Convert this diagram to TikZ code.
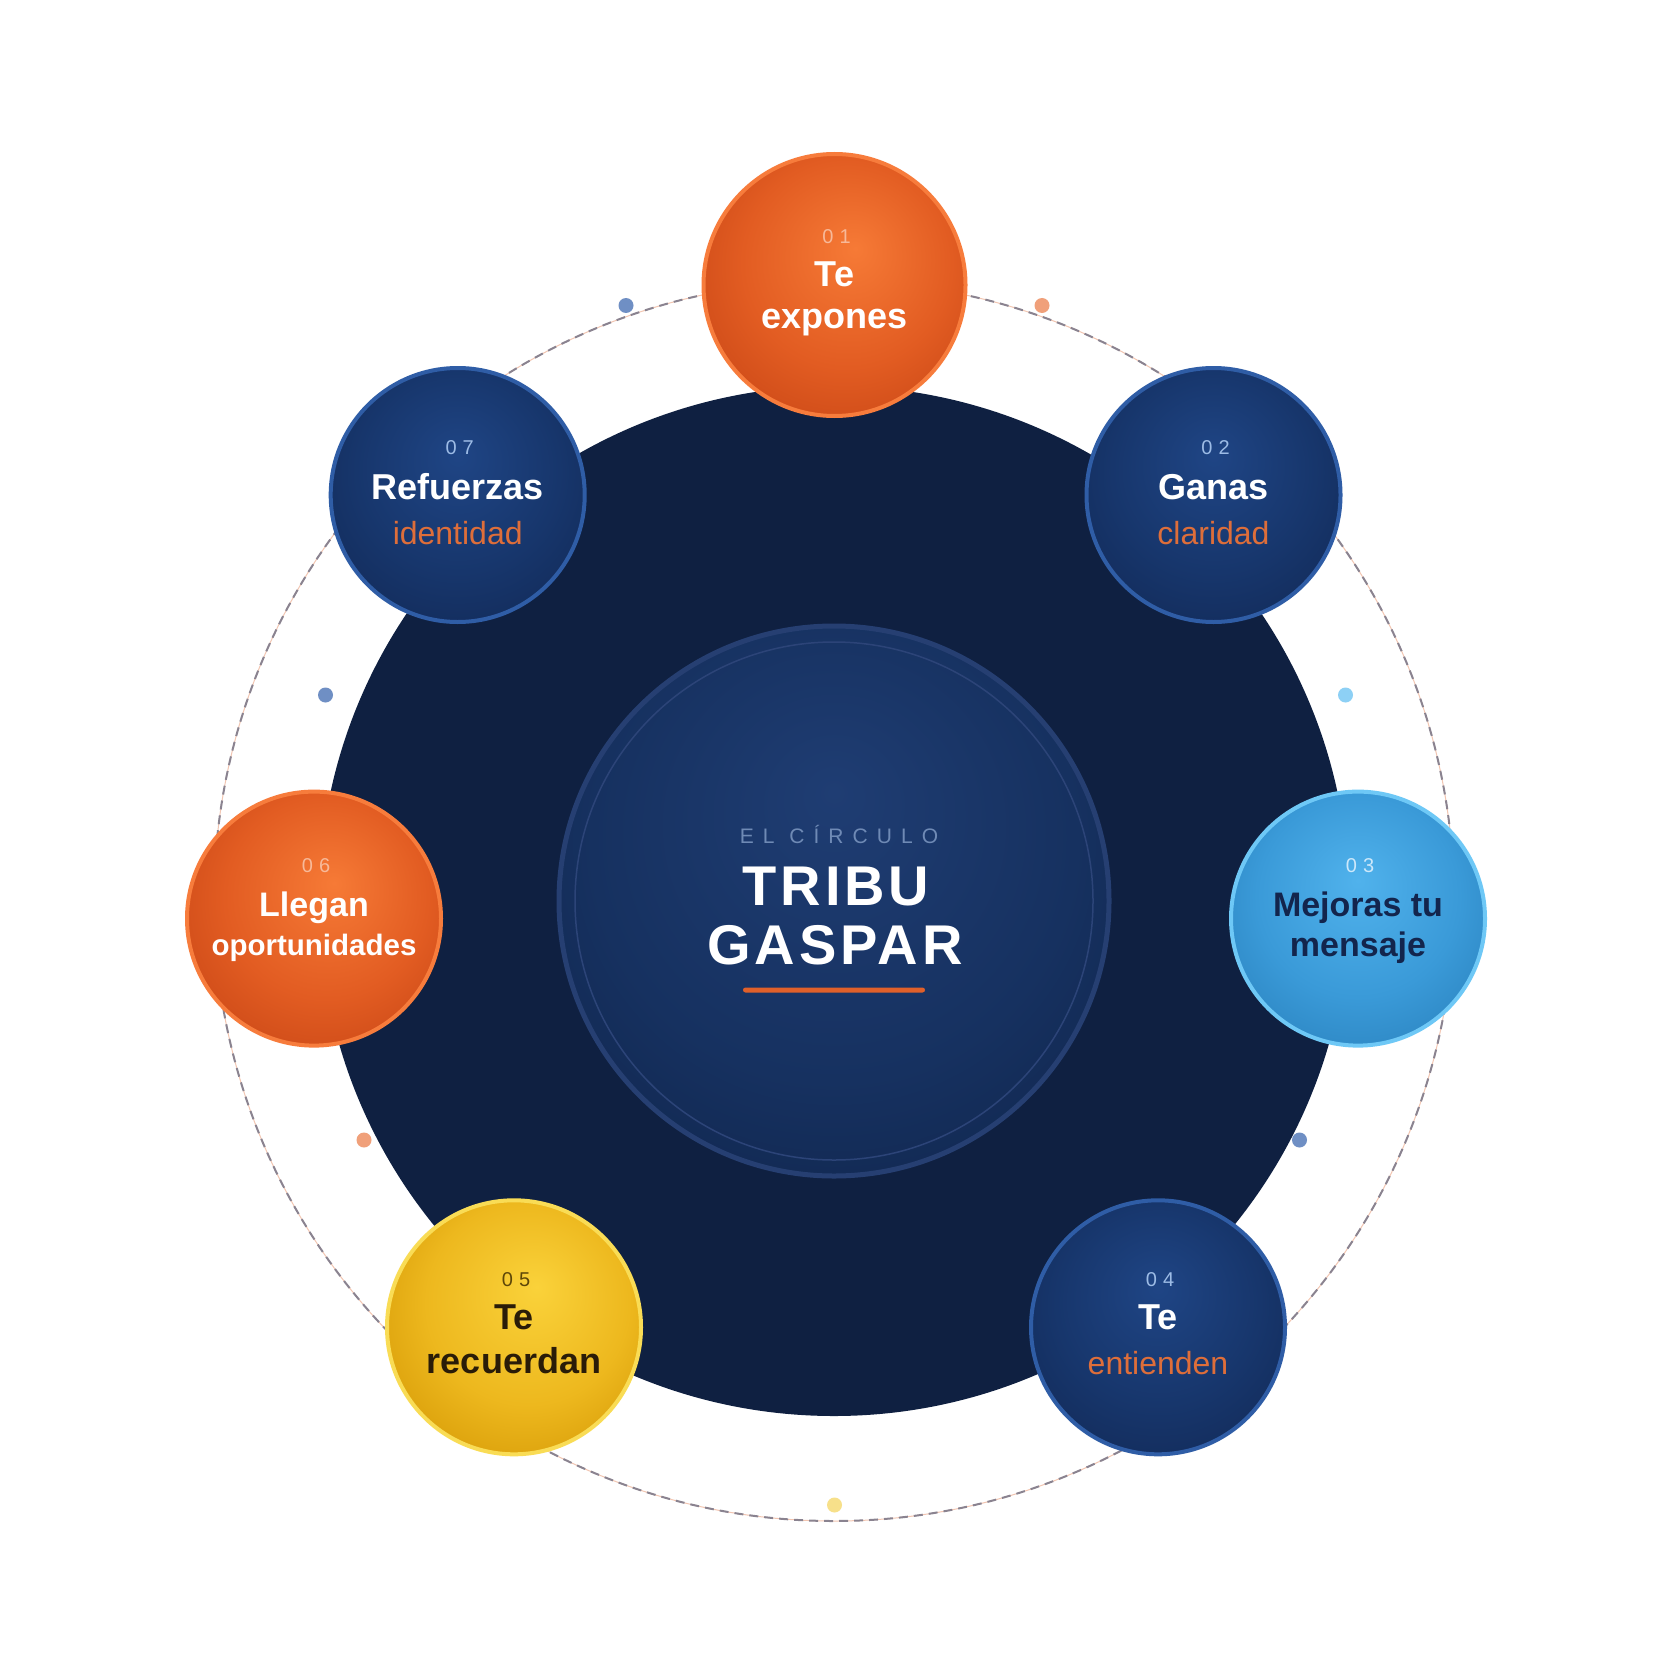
\documentclass[tikz,border=0pt]{standalone}
\usepackage{fontspec}
\setmainfont{Liberation Sans}
\newfontfamily\numfont[LetterSpace=30]{Liberation Sans}
\newfontfamily\kickerfont[LetterSpace=43]{Liberation Sans}
\newfontfamily\titlefont[LetterSpace=7]{Liberation Sans}
\definecolor{navybg}{HTML}{0F2041}
\definecolor{or1}{HTML}{F67A36}
\definecolor{or2}{HTML}{E25C22}
\definecolor{or3}{HTML}{C94716}
\definecolor{orborder}{HTML}{F77C3C}
\definecolor{bl1}{HTML}{1F4585}
\definecolor{bl2}{HTML}{17366C}
\definecolor{bl3}{HTML}{122A58}
\definecolor{blborder}{HTML}{2F5DA6}
\definecolor{sk1}{HTML}{50B2EC}
\definecolor{sk2}{HTML}{3A9AD8}
\definecolor{sk3}{HTML}{2A82BE}
\definecolor{skborder}{HTML}{6EC8F6}
\definecolor{ye1}{HTML}{FAD23A}
\definecolor{ye2}{HTML}{EDB81E}
\definecolor{ye3}{HTML}{D69A06}
\definecolor{yeborder}{HTML}{F9DC55}
\definecolor{in1}{HTML}{1F3D73}
\definecolor{in2}{HTML}{163160}
\definecolor{in3}{HTML}{10254C}
\definecolor{inborder}{HTML}{263F72}
\definecolor{inring}{HTML}{2C4478}
\definecolor{kicker}{HTML}{6F8AB5}
\definecolor{accent}{HTML}{E0602A}
\definecolor{subor}{HTML}{DE6E3A}
\definecolor{numor}{HTML}{F7B999}
\definecolor{numbl}{HTML}{9DBCE6}
\definecolor{numsk}{HTML}{CDE8FA}
\definecolor{numye}{HTML}{5E4708}
\definecolor{darknavy}{HTML}{13254D}
\definecolor{darkbrown}{HTML}{2A1C08}
\definecolor{dashgray}{HTML}{8A8390}
\definecolor{dashpeach}{HTML}{F2C6B2}
\definecolor{dotblue}{HTML}{6F8FC4}
\definecolor{dotorange}{HTML}{F0A07A}
\definecolor{dotsky}{HTML}{8DD0F5}
\definecolor{dotyellow}{HTML}{F7E08A}
\pgfdeclareradialshading{orangeball}{\pgfpoint{4bp}{7bp}}{color(0bp)=(or1); color(20bp)=(or2); color(34bp)=(or3); color(50bp)=(or3)}
\pgfdeclareradialshading{blueball}{\pgfpoint{0bp}{8bp}}{color(0bp)=(bl1); color(20bp)=(bl2); color(34bp)=(bl3); color(50bp)=(bl3)}
\pgfdeclareradialshading{skyball}{\pgfpoint{0bp}{7.5bp}}{color(0bp)=(sk1); color(20bp)=(sk2); color(34bp)=(sk3); color(50bp)=(sk3)}
\pgfdeclareradialshading{yellowball}{\pgfpoint{4.5bp}{8bp}}{color(0bp)=(ye1); color(20bp)=(ye2); color(34bp)=(ye3); color(50bp)=(ye3)}
\pgfdeclareradialshading{innerball}{\pgfpoint{0bp}{10bp}}{color(0bp)=(in1); color(22bp)=(in2); color(36bp)=(in3); color(50bp)=(in3)}
\begin{document}
\begin{tikzpicture}[x=1pt,y=-1pt,
  sat/.style={circle, inner sep=0pt, minimum size=254pt, line width=4pt},
  satbig/.style={circle, inner sep=0pt, minimum size=262pt, line width=4pt},
  orangesat/.style={shade, shading=orangeball, draw=orborder},
  bluesat/.style={shade, shading=blueball, draw=blborder},
  skysat/.style={shade, shading=skyball, draw=skborder},
  yellowsat/.style={shade, shading=yellowball, draw=yeborder},
  dot/.style={circle, inner sep=0pt, minimum size=15pt},
  num/.style={anchor=base, inner sep=0pt, font=\numfont\fontsize{20}{20}\selectfont},
  head/.style={anchor=base, inner sep=0pt, font=\fontsize{36}{36}\selectfont\bfseries},
  headsm/.style={anchor=base, inner sep=0pt, font=\fontsize{34}{34}\selectfont\bfseries},
  sub/.style={anchor=base, inner sep=0pt, font=\fontsize{32}{32}\selectfont, text=subor},
]
\useasboundingbox (0,0) rectangle (1669,1669);
\fill[white] (0,0) rectangle (1669,1669);
\coordinate (c) at (834,901);
% orbit
\draw[dashpeach, line width=1pt] (c) circle (620);
\draw[dashgray, line width=2pt, dash pattern=on 9pt off 6pt] (c) circle (620);
% core
\node[circle, fill=navybg, inner sep=0pt, minimum size=1030pt] (core) at (c) {};
\node[circle, shade, shading=innerball, draw=inborder, line width=5pt, inner sep=0pt, minimum size=550pt] (inner) at (c) {};
\node[circle, draw=inring, line width=1.5pt, inner sep=0pt, minimum size=518pt] (ring) at (c) {};
\node[anchor=base, inner sep=0pt, text=kicker, font=\kickerfont\fontsize{21}{21}\selectfont] (kick) at (839,843) {EL CÍRCULO};
\node[anchor=base, inner sep=0pt, text=white, font=\titlefont\fontsize{56}{56}\selectfont\bfseries] (t1) at (836,905) {TRIBU};
\node[anchor=base, inner sep=0pt, text=white, font=\titlefont\fontsize{56}{56}\selectfont\bfseries] (t2) at (835,964) {GASPAR};
\node[fill=accent, inner sep=0pt, minimum width=182pt, minimum height=5pt, rounded corners=2.5pt] (bar) at (834,990) {};
% dots
\node[dot, fill=dotblue] (d1) at (626,305.5) {};
\node[dot, fill=dotorange] (d2) at (1042,305.5) {};
\node[dot, fill=dotsky] (d3) at (1345.5,695) {};
\node[dot, fill=dotblue] (d4) at (1299.5,1140) {};
\node[dot, fill=dotyellow] (d5) at (834.5,1505) {};
\node[dot, fill=dotorange] (d6) at (364,1140) {};
\node[dot, fill=dotblue] (d7) at (325.5,695) {};
% satellites
\node[satbig, orangesat] (s1) at (834.5,285) {};
\node[sat, bluesat] (s2) at (1213.5,495) {};
\node[sat, skysat] (s3) at (1358,918.6) {};
\node[sat, bluesat] (s4) at (1158,1327.3) {};
\node[sat, yellowsat] (s5) at (514,1327.3) {};
\node[sat, orangesat] (s6) at (314,918.6) {};
\node[sat, bluesat] (s7) at (457.7,495) {};
% 01
\node[num, text=numor] (n1) at (836.5,244) {01};
\node[head, text=white] (h1) at (834.5,287) {Te};
\node[head, text=white] (g1) at (834.5,328) {expones};
% 02
\node[num, text=numbl] (n2) at (1215.5,454) {02};
\node[head, text=white] (h2) at (1213.5,499) {Ganas};
\node[sub] (g2) at (1213.5,544) {claridad};
% 03
\node[num, text=numsk] (n3) at (1360,872) {03};
\node[headsm, text=darknavy] (h3) at (1358,916) {Mejoras tu};
\node[headsm, text=darknavy] (g3) at (1358,956) {mensaje};
% 04
\node[num, text=numbl] (n4) at (1160,1286) {04};
\node[head, text=white] (h4) at (1158,1329) {Te};
\node[sub] (g4) at (1158,1374) {entienden};
% 05
\node[num, text=numye] (n5) at (516,1286) {05};
\node[head, text=darkbrown] (h5) at (514,1329) {Te};
\node[head, text=darkbrown] (g5) at (514,1373) {recuerdan};
% 06
\node[num, text=numor] (n6) at (316,872) {06};
\node[headsm, text=white] (h6) at (314,916.5) {Llegan};
\node[anchor=base, inner sep=0pt, font=\fontsize{29.5}{29.5}\selectfont\bfseries, text=white] (g6) at (314,955) {oportunidades};
% 07
\node[num, text=numbl] (n7) at (459.7,454) {07};
\node[head, text=white] (h7) at (457.7,499) {Refuerzas};
\node[sub] (g7) at (457.7,544) {identidad};
\end{tikzpicture}
\end{document}
